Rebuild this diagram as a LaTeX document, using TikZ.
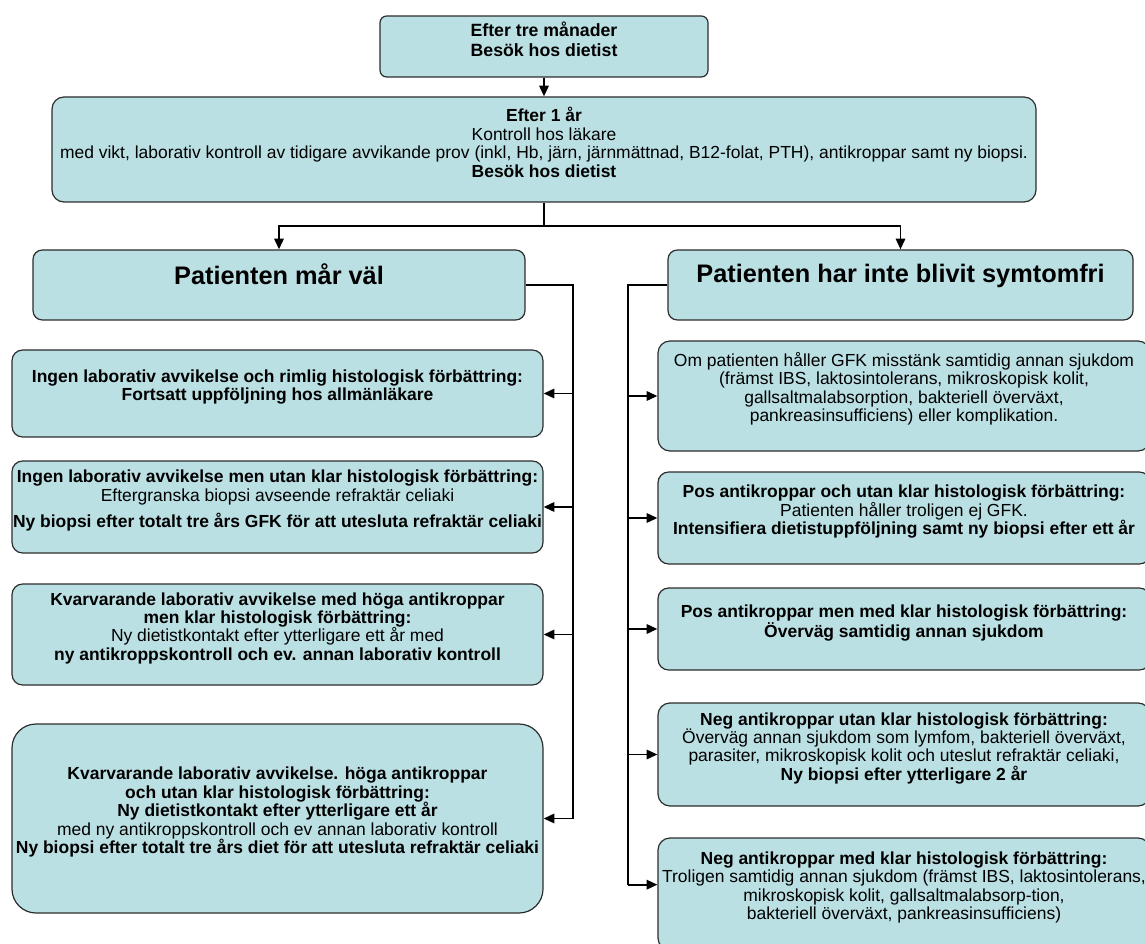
\documentclass[tikz,border=0pt]{standalone}
\usepackage{fontspec}
\setmainfont{Liberation Sans}
\usetikzlibrary{arrows.meta,fit}
\definecolor{pale}{RGB}{187,224,228}
\definecolor{rim}{RGB}{45,45,45}
\tikzset{
  >={Triangle[length=8pt,width=7pt]},
  box/.style={draw=rim,fill=pale,line width=0.9pt,rounded corners=#1,inner sep=0pt,
    align=center,font=\fontsize{13.1}{13.8}\selectfont},
  box/.default=8pt,
  head/.style={box=#1,font=\fontsize{19}{21}\selectfont\bfseries},
  head/.default=7pt,
  flow/.style={->,line width=1.4pt,draw=black},
  wire/.style={line width=1.4pt,draw=black},
}

\begin{document}
\begin{tikzpicture}[x=0.75pt,y=-0.75pt]
  \useasboundingbox (0,0) rectangle (1145,944);
  \clip (0,0) rectangle (1145,944);
  % visits
  \node[box=5pt,fit={(380,16) (708,77)},font=\fontsize{13.3}{15.5}\selectfont\bfseries] (tre)
    {Efter tre månader\\Besök hos dietist};
  \node[box=9pt,fit={(52,97) (1036,202)}] (ar)
    {\textbf{Efter 1 år}\\Kontroll hos läkare\\
     med vikt, laborativ kontroll av tidigare avvikande prov (inkl, Hb, järn, järnmättnad, B12-folat, PTH), antikroppar samt ny biopsi.\\
     \textbf{Besök hos dietist}};
  % the two branches
  \node[head,fit={(33,250) (525,320)}] (mar) {Patienten mår väl};
  \node[head,fit={(668,250) (1133,320)}] (inte) {Patienten har inte blivit symtomfri};
  % left column
  \node[box,fit={(12,350) (543,437)},font=\fontsize{13.1}{13.8}\selectfont\bfseries] (l1)
    {Ingen laborativ avvikelse och rimlig histologisk förbättring:\\Fortsatt uppföljning hos allmänläkare};
  \node[box,fit={(12,461) (543,553)}] (l2)
    {\textbf{Ingen laborativ avvikelse men utan klar histologisk förbättring:}\\
     Eftergranska biopsi avseende refraktär celiaki\\[6pt]
     \textbf{Ny biopsi efter totalt tre års GFK för att utesluta refraktär celiaki}};
  \node[box,fit={(12,584) (543,685)}] (l3)
    {\textbf{Kvarvarande laborativ avvikelse med höga antikroppar}\\
     \textbf{men klar histologisk förbättring:}\\
     Ny dietistkontakt efter ytterligare ett år med\\
     \textbf{ny antikroppskontroll och ev. annan laborativ kontroll}};
  \node[box=18pt,fit={(12,724) (543,913)}] (l4)
    {\textbf{Kvarvarande laborativ avvikelse. höga antikroppar}\\
     \textbf{och utan klar histologisk förbättring:}\\
     \textbf{Ny dietistkontakt efter ytterligare ett år}\\
     med ny antikroppskontroll och ev annan laborativ kontroll\\
     \textbf{Ny biopsi efter totalt tre års diet för att utesluta refraktär celiaki}};
  % right column
  \node[box=9pt,fit={(658,341) (1150,451)}] (r1)
    {Om patienten håller GFK misstänk samtidig annan sjukdom\\
     (främst IBS, laktosintolerans, mikroskopisk kolit,\\
     gallsaltmalabsorption, bakteriell överväxt,\\
     pankreasinsufficiens) eller komplikation.};
  \node[box,fit={(658,472) (1150,564)}] (r2)
    {\textbf{Pos antikroppar och utan klar histologisk förbättring:}\\
     Patienten håller troligen ej GFK.\\
     \textbf{Intensifiera dietistuppföljning samt ny biopsi efter ett år}};
  \node[box,fit={(658,588) (1150,670)}] (r3)
    {\textbf{Pos antikroppar men med klar histologisk förbättring:}\\
     \textbf{Överväg samtidig annan sjukdom}};
  \node[box=9pt,fit={(658,703) (1150,806)}] (r4)
    {\textbf{Neg antikroppar utan klar histologisk förbättring:}\\
     Överväg annan sjukdom som lymfom, bakteriell överväxt,\\
     parasiter, mikroskopisk kolit och uteslut refraktär celiaki,\\
     \textbf{Ny biopsi efter ytterligare 2 år}};
  \node[box=9pt,fit={(658,838) (1150,950)}] (r5)
    {\textbf{Neg antikroppar med klar histologisk förbättring:}\\
     Troligen samtidig annan sjukdom (främst IBS, laktosintolerans,\\
     mikroskopisk kolit, gallsaltmalabsorp-tion,\\
     bakteriell överväxt, pankreasinsufficiens)};
  % connectors
  \coordinate (lbus) at (573,0);
  \coordinate (rbus) at (628,0);
  \coordinate (r5in) at ([yshift=7pt]r5.west);
  \draw[flow] (tre) -- (ar);
  \draw[wire] (ar.south) -- ++(0,23) coordinate (split);
  \draw[flow] (split) -| (mar);
  \draw[flow] (split) -| (inte);
  \draw[wire] (mar.east) -| (lbus |- l4.east);
  \draw[wire] (inte.west) -| (rbus |- r5in);
  \foreach \n in {l1,l2,l3,l4}
    \draw[flow] (lbus |- \n.east) -- (\n.east);
  \foreach \n in {r1,r2,r3,r4}
    \draw[flow] (rbus |- \n.west) -- (\n.west);
  \draw[flow] (rbus |- r5in) -- (r5in);
\end{tikzpicture}
\end{document}
